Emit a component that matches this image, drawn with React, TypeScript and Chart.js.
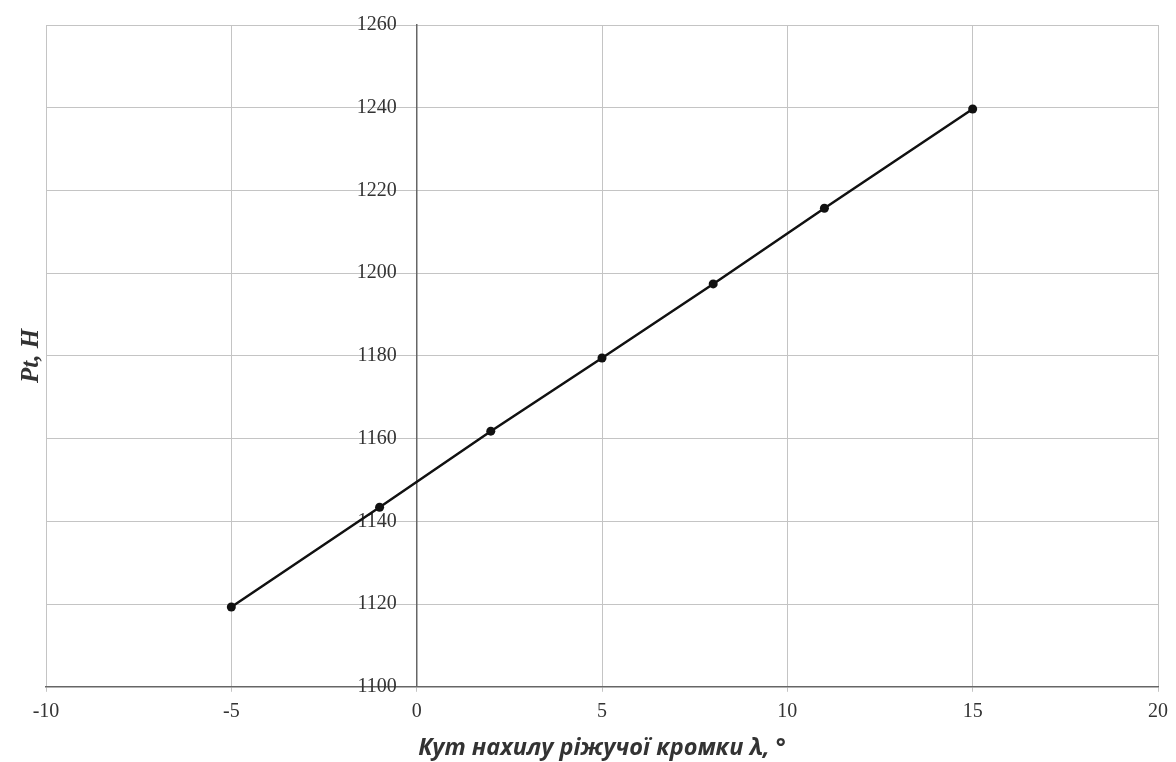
import React, { useEffect, useRef } from "react";
import { Chart, registerables } from "chart.js";

Chart.register(...registerables);

const angles = [-5, -1, 2, 5, 8, 11, 15];
const forces = [1119.3, 1143.4, 1161.8, 1179.5, 1197.4, 1215.7, 1239.7];

const X_MIN = -10;
const X_MAX = 20;
const X_STEP = 5;
const Y_MIN = 1100;
const Y_MAX = 1260;
const Y_STEP = 20;

const X_TITLE = "Кут нахилу ріжучої кромки λ, °";
const Y_TITLE = "Pt, Н";

const yTitlePlugin = {
  id: "yTitlePlugin",
  afterDraw(chart: any) {
    const { ctx, chartArea } = chart;
    const cy = (chartArea.top + chartArea.bottom) / 2;
    ctx.save();
    ctx.translate(32, cy);
    ctx.rotate(-Math.PI / 2);
    ctx.font = "italic bold 25px 'Liberation Serif', 'DejaVu Serif', serif";
    ctx.fillStyle = "#333";
    ctx.textAlign = "center";
    ctx.textBaseline = "middle";
    ctx.fillText(Y_TITLE, 0, 0);
    ctx.restore();
  },
};

export default function App() {
  const ref = useRef<HTMLCanvasElement | null>(null);

  useEffect(() => {
    document.body.style.margin = "0";
    const canvas = ref.current;
    if (!canvas) return;
    const chart = new Chart(canvas, {
      type: "scatter",
      data: {
        datasets: [
          {
            label: "Pt",
            data: angles.map((a, i) => ({ x: a, y: forces[i] })),
            showLine: true,
            borderColor: "#111111",
            backgroundColor: "#111111",
            borderWidth: 2.5,
            pointRadius: 4.5,
            pointStyle: "circle",
            pointBorderWidth: 0,
          },
        ],
      },
      options: {
        animation: false,
        responsive: false,
        maintainAspectRatio: false,
        layout: { padding: { top: 25, right: 12, left: 46, bottom: 0 } },
        plugins: { legend: { display: false }, tooltip: { enabled: false } },
        scales: {
          x: {
            type: "linear",
            position: "bottom",
            min: X_MIN,
            max: X_MAX,
            ticks: {
              stepSize: X_STEP,
              color: "#333",
              padding: 8,
              font: { family: "'Liberation Serif', 'DejaVu Serif', serif", size: 20 },
            },
            grid: { color: "#c4c4c4", lineWidth: 1, tickLength: 5 },
            border: { color: "#666", width: 1.5 },
            title: {
              display: true,
              text: X_TITLE,
              color: "#333",
              padding: { top: 2, bottom: 0 },
              font: { family: "'Open Sans', 'Liberation Sans', sans-serif", size: 23.5, weight: "bold", style: "italic" },
            },
          },
          y: {
            type: "linear",
            position: { x: 0 },
            min: Y_MIN,
            max: Y_MAX,
            ticks: {
              stepSize: Y_STEP,
              color: "#333",
              padding: 6,
              font: { family: "'Liberation Serif', 'DejaVu Serif', serif", size: 20 },
              callback: (v: any) => String(v) + "    ",
            },
            grid: { color: "#c4c4c4", lineWidth: 1, tickLength: 5 },
            border: { color: "#666", width: 1.5 },
          },
        },
      },
      plugins: [yTitlePlugin],
    });
    return () => chart.destroy();
  }, []);

  return (
    <div style={{ position: "fixed", left: 0, top: 0, width: 1176, height: 762, background: "#fff" }}>
      <canvas ref={ref} width={1176} height={762} style={{ width: 1176, height: 762 }} />
    </div>
  );
}
